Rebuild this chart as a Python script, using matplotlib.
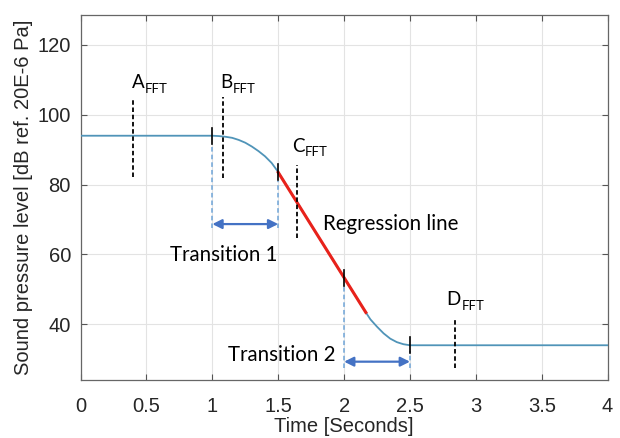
import matplotlib
matplotlib.use("Agg")
import matplotlib.pyplot as plt

# sound level curve
t_curve = [0, 1.0, 1.05, 1.1, 1.15, 1.2, 1.25, 1.3, 1.35, 1.4, 1.45, 1.5, 1.75, 2.0, 2.165,
           2.2, 2.25, 2.3, 2.35, 2.4, 2.45, 2.5, 4.0]
spl_curve = [94, 94, 93.9, 93.7, 93.4, 92.8, 92.0, 90.9, 89.6, 88.1, 86.2, 83.6, 68.4, 53.3, 43.4,
             41.4, 39.3, 37.4, 35.9, 34.9, 34.3, 34.0, 34.0]

# regression line
reg_t = [1.5, 2.165]
reg_spl = [83.5, 43.4]

# solid black markers on the curve
mark_t = [1.0, 1.5, 2.0, 2.5]
mark_spl = [94, 83.6, 53.3, 34.0]

# dashed black FFT windows: time, bottom, top
fft_names = ["A", "B", "C", "D"]
fft_t = [0.4, 1.08, 1.644, 2.84]
fft_lo = [82.2, 81.8, 64.6, 27.4]
fft_hi = [104.2, 105.0, 85.6, 41.7]
fft_lbl_t = [0.387, 1.057, 1.604, 2.778]
fft_lbl_y = [107.7, 107.7, 89.4, 45.5]

# transitions: start, end, arrow level, dashed guides
trans_start = [1.0, 2.0]
trans_end = [1.5, 2.5]
trans_y = [68.7, 29.3]
guide_start_top = [90.8, 51.2]
guide_end_top = [81.0, 32.3]
guide_bottom = [67.6, 27.4]

xticks = [0, 0.5, 1, 1.5, 2, 2.5, 3, 3.5, 4]
xtick_labels = ["0", "0.5", "1", "1.5", "2", "2.5", "3", "3.5", "4"]
yticks = [40, 60, 80, 100, 120]

plt.rcParams['font.family'] = ['Liberation Sans', 'DejaVu Sans']

fig = plt.figure(figsize=(6.2, 4.38), dpi=100)
ax = fig.add_axes([0.130, 0.132, 0.850, 0.834])

ax.plot(t_curve, spl_curve, color='#5094b8', linewidth=1.3, zorder=3)
ax.plot(reg_t, reg_spl, color='#e8221b', linewidth=2.2, zorder=4)

for t, v in zip(mark_t, mark_spl):
    ax.plot([t, t], [v - 2.3, v + 2.3], color='black', linewidth=1.2, zorder=5)

for name, t, lo, hi, lt, ly in zip(fft_names, fft_t, fft_lo, fft_hi, fft_lbl_t, fft_lbl_y):
    ax.plot([t, t], [lo, hi], color='black', linewidth=1.3, linestyle=(0, (2.5, 1.5)), zorder=5)
    letter = ax.text(lt, ly, name, fontsize=13.5, family='Lato', ha='left', va='baseline')
    ax.annotate('FFT', xy=(1, 0), xycoords=letter, xytext=(0.3, -1.2),
                textcoords='offset points', fontsize=9.5, family='Lato',
                ha='left', va='baseline')

for s, e, y, st, et, b in zip(trans_start, trans_end, trans_y, guide_start_top, guide_end_top, guide_bottom):
    ax.plot([s, s], [b, st], color='#6fa5d8', linewidth=1.1, linestyle=(0, (3, 2)), zorder=2)
    ax.plot([e, e], [b, et], color='#6fa5d8', linewidth=1.1, linestyle=(0, (3, 2)), zorder=2)
    ax.annotate('', xy=(e, y), xytext=(s, y),
                arrowprops=dict(arrowstyle='<|-|>', color='#4472c4', lw=1.6,
                                mutation_scale=14, shrinkA=0, shrinkB=0))

ax.text(1.09, 59.8, 'Transition 1', fontsize=14.8, family='Lato', ha='center', va='center')
ax.text(2.35, 68.7, 'Regression line', fontsize=14.8, family='Lato', ha='center', va='center')
ax.text(1.53, 31.2, 'Transition 2', fontsize=14.8, family='Lato', ha='center', va='center')

ax.set_xlim(0, 4)
ax.set_ylim(24, 128.6)
ax.set_xticks(xticks)
ax.set_xticklabels(xtick_labels)
ax.set_yticks(yticks)
ax.grid(True, color='#e3e3e3', linewidth=0.8)
ax.set_axisbelow(True)
ax.tick_params(direction='in', length=4, width=0.8, color='#555555',
               top=True, right=True, labelsize=14.5, labelcolor='#262626')
ax.tick_params(axis='x', pad=12)
ax.tick_params(axis='y', pad=7)
for sp in ax.spines.values():
    sp.set_color('#666666')
    sp.set_linewidth(0.9)

ax.set_xlabel('Time [Seconds]', fontsize=14.5, color='#262626', labelpad=1)
ax.set_ylabel('Sound pressure level [dB ref. 20E-6 Pa]', fontsize=14.5, color='#262626', labelpad=3)

fig.savefig('out.png', dpi=100)
